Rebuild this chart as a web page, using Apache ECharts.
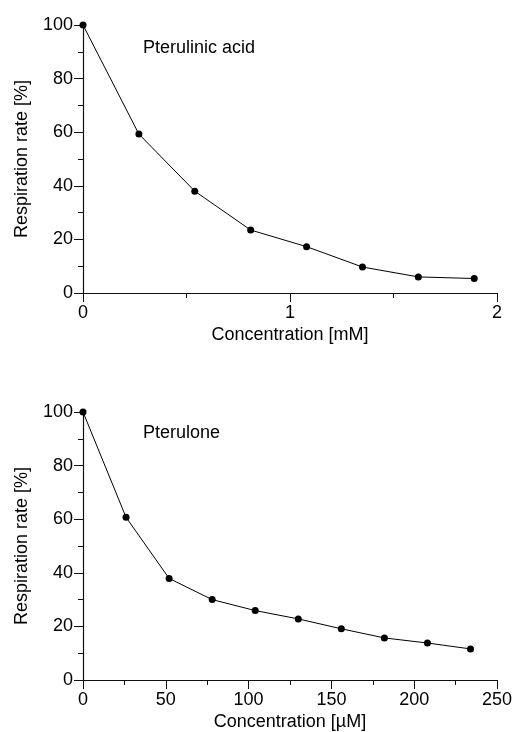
<!DOCTYPE html>
<html>
<head>
<meta charset="utf-8">
<script src="https://cdn.jsdelivr.net/npm/echarts@6/dist/echarts.min.js"></script>
<style>
html,body{margin:0;padding:0;background:#fff;}
#c{width:516px;height:732px;}
</style>
</head>
<body>
<div id="c"></div>
<script>
// Top panel: Pterulinic acid (concentration in mM)
var acidConc = [0, 0.27, 0.54, 0.81, 1.08, 1.35, 1.62, 1.89];
var acidResp = [100, 59.3, 38.0, 23.5, 17.3, 9.7, 6.0, 5.4];
// Bottom panel: Pterulone (concentration in µM)
var oneConc = [0, 26, 52, 78, 104, 130, 156, 182, 208, 234];
var oneResp = [100, 60.7, 37.9, 30.0, 25.9, 22.8, 19.1, 15.7, 13.8, 11.6];

var yTicks = [0, 20, 40, 60, 80, 100];
var xTicksTop = [0, 1, 2];
var xTicksBottom = [0, 50, 100, 150, 200, 250];

var FONT = '"Liberation Sans", Arial, sans-serif';
var axisColor = '#111';

function xAxis(gridIndex, ticks, name) {
  return {
    type: 'value', gridIndex: gridIndex,
    min: ticks[0], max: ticks[ticks.length - 1], interval: ticks[1] - ticks[0],
    name: name, nameLocation: 'middle', nameGap: 33,
    nameTextStyle: {color: '#000', fontSize: 18, fontFamily: FONT},
    axisLine: {show: true, onZero: false, lineStyle: {color: axisColor, width: 1.2}},
    axisTick: {show: true, inside: false, length: 9, lineStyle: {color: axisColor, width: 1}},
    minorTick: {show: true, splitNumber: 2, length: 5, lineStyle: {color: axisColor, width: 1}},
    axisLabel: {color: '#000', fontSize: 18, fontFamily: FONT, margin: 11},
    splitLine: {show: false}
  };
}
function yAxis(gridIndex) {
  return {
    type: 'value', gridIndex: gridIndex,
    min: yTicks[0], max: yTicks[yTicks.length - 1], interval: yTicks[1] - yTicks[0],
    name: 'Respiration rate [%]', nameLocation: 'middle', nameGap: 52,
    nameTextStyle: {color: '#000', fontSize: 18, fontFamily: FONT},
    axisLine: {show: true, onZero: false, lineStyle: {color: axisColor, width: 1.2}},
    axisTick: {show: true, inside: false, length: 9, lineStyle: {color: axisColor, width: 1}},
    minorTick: {show: true, splitNumber: 2, length: 5, lineStyle: {color: axisColor, width: 1}},
    axisLabel: {color: '#000', fontSize: 18, fontFamily: FONT, margin: 10},
    splitLine: {show: false}
  };
}
function pairs(xs, ys) { return xs.map(function (x, i) { return [x, ys[i]]; }); }
function series(i, data) {
  return {
    type: 'line', xAxisIndex: i, yAxisIndex: i, data: data,
    symbol: 'circle', symbolSize: 7, showAllSymbol: true,
    lineStyle: {color: '#000', width: 1},
    itemStyle: {color: '#000'},
    animation: false
  };
}

var chart = echarts.init(document.getElementById('c'), null, {renderer: 'canvas'});
chart.setOption({
  backgroundColor: '#fff',
  animation: false,
  grid: [
    {left: 83, right: 19, top: 25, height: 268},
    {left: 83, right: 19, top: 412, height: 269}
  ],
  xAxis: [xAxis(0, xTicksTop, 'Concentration [mM]'), xAxis(1, xTicksBottom, 'Concentration [\u00b5M]')],
  yAxis: [yAxis(0), yAxis(1)],
  series: [series(0, pairs(acidConc, acidResp)), series(1, pairs(oneConc, oneResp))],
  graphic: [
    {type: 'text', left: 143, top: 39, style: {text: 'Pterulinic acid', fill: '#000', font: '18px ' + FONT}},
    {type: 'text', left: 143, top: 424, style: {text: 'Pterulone', fill: '#000', font: '18px ' + FONT}}
  ]
});
</script>
</body>
</html>
